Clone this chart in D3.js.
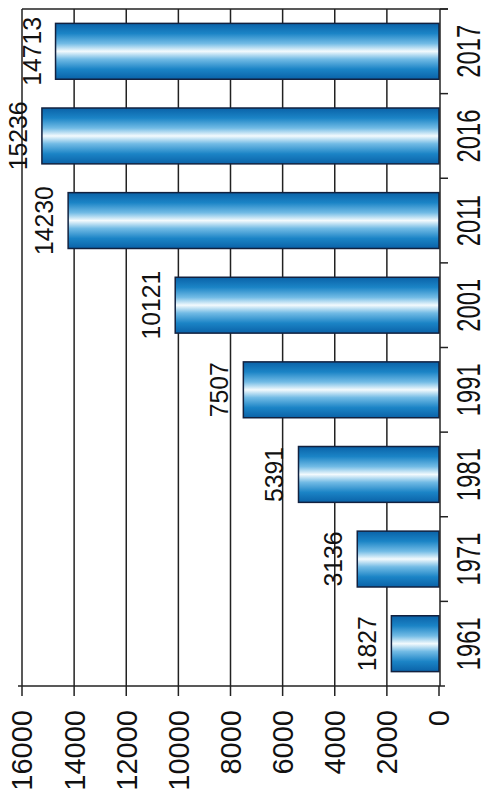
<!DOCTYPE html>
<html>
<head>
<meta charset="utf-8">
<script src="https://cdn.jsdelivr.net/npm/d3@7"></script>
<style>
  html, body { margin: 0; padding: 0; background: #fff; }
  svg { display: block; }
  text { font-family: "Liberation Sans", Arial, sans-serif; fill: #111; }
</style>
</head>
<body>
<script>
const years = ["1961", "1971", "1981", "1991", "2001", "2011", "2016", "2017"];
const values = [1827, 3136, 5391, 7507, 10121, 14230, 15236, 14713];
const valueTicks = [0, 2000, 4000, 6000, 8000, 10000, 12000, 14000, 16000];

(function () {
const W = 489, H = 801;
const svg = d3.select("body").append("svg").attr("width", W).attr("height", H);

const plotTop = 9, plotBottom = 686, axisX = 440;
const x = d3.scaleLinear().domain([0, 16000]).range([439, 22]);
const y = d3.scaleBand().domain(years.slice().reverse()).range([plotTop, plotBottom])
  .paddingInner(0.34).paddingOuter(0.17);

const defs = svg.append("defs");
const grad = defs.append("linearGradient").attr("id", "barGrad")
  .attr("x1", 0).attr("y1", 0).attr("x2", 0).attr("y2", 1);
[[0, "#0a62a8"], [0.18, "#1b84c6"], [0.36, "#72bbe5"], [0.5, "#f3fafd"],
 [0.64, "#72bbe5"], [0.82, "#1b84c6"], [1, "#0a62a8"]]
  .forEach(([o, c]) => grad.append("stop").attr("offset", o).attr("stop-color", c));

// gridlines
svg.append("g").selectAll("line").data(valueTicks.filter(d => d > 0)).join("line")
  .attr("x1", d => x(d)).attr("x2", d => x(d))
  .attr("y1", plotTop).attr("y2", plotBottom)
  .attr("stroke", "#222").attr("stroke-width", 1.5);

// top frame line
svg.append("line").attr("x1", x(16000)).attr("x2", axisX + 8)
  .attr("y1", plotTop).attr("y2", plotTop).attr("stroke", "#222").attr("stroke-width", 1.5);

// bars
svg.append("g").selectAll("rect").data(years).join("rect")
  .attr("x", (d, i) => x(values[i]))
  .attr("y", d => y(d))
  .attr("width", (d, i) => x(0) - x(values[i]))
  .attr("height", y.bandwidth())
  .attr("fill", "url(#barGrad)")
  .attr("stroke", "#12213f").attr("stroke-width", 1.5);

// value labels
svg.append("g").selectAll("text").data(years).join("text")
  .attr("transform", (d, i) => `translate(${x(values[i]) - 15},${y(d) + y.bandwidth() / 2}) rotate(-90) scale(0.95,1)`)
  .attr("text-anchor", "middle")
  .style("font-size", "26px")
  .text((d, i) => values[i]);

// bottom value axis
const gx = svg.append("g");
gx.append("line").attr("x1", x(16000) - 4).attr("x2", axisX + 5)
  .attr("y1", plotBottom).attr("y2", plotBottom).attr("stroke", "#222").attr("stroke-width", 1.5);
gx.selectAll("line.tick").data(valueTicks).join("line").attr("class", "tick")
  .attr("x1", d => x(d)).attr("x2", d => x(d))
  .attr("y1", plotBottom).attr("y2", plotBottom + 10)
  .attr("stroke", "#222").attr("stroke-width", 1.5);
gx.selectAll("text").data(valueTicks).join("text")
  .attr("transform", d => `translate(${x(d)},${plotBottom + 24}) rotate(-90)`)
  .attr("text-anchor", "end")
  .attr("dy", "0.36em")
  .style("font-size", "29px")
  .text(d => d);

// right category axis
const gy = svg.append("g");
gy.append("line").attr("x1", axisX).attr("x2", axisX)
  .attr("y1", plotTop).attr("y2", plotBottom).attr("stroke", "#222").attr("stroke-width", 1.5);
const step = y.step();
const bounds = years.map((d, i) => plotTop + i * step);
gy.selectAll("line.tick").data(bounds).join("line").attr("class", "tick")
  .attr("x1", axisX).attr("x2", axisX + 8)
  .attr("y1", d => d).attr("y2", d => d)
  .attr("stroke", "#222").attr("stroke-width", 1.5);
gy.selectAll("text").data(years).join("text")
  .attr("transform", d => `translate(${axisX + 28},${y(d) + y.bandwidth() / 2}) rotate(-90) scale(0.7,1)`)
  .attr("text-anchor", "middle")
  .attr("dy", "0.36em")
  .style("font-size", "34px")
  .text(d => d);
})();
</script>
</body>
</html>
